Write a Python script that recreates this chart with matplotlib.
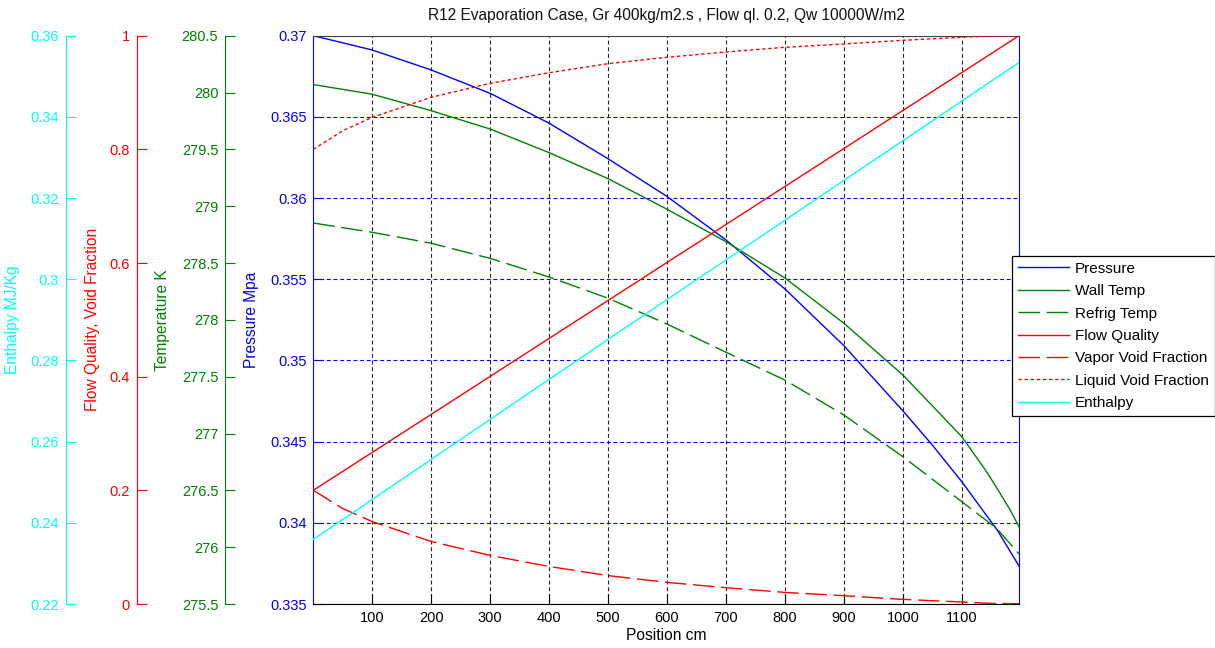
import numpy as np
import matplotlib
matplotlib.use("Agg")
import matplotlib.pyplot as plt
from matplotlib.ticker import FixedLocator, FuncFormatter

plt.rcParams['font.family'] = ['Liberation Sans', 'DejaVu Sans']

# ---------------- data ----------------
title = "R12 Evaporation Case, Gr 400kg/m2.s , Flow ql. 0.2, Qw 10000W/m2"
x_label = "Position cm"

pos_p = [0, 100, 200, 300, 400, 500, 600, 700, 800, 900, 1000, 1050, 1100, 1160, 1197]
pressure = [0.37, 0.36912, 0.36789, 0.36645, 0.36461, 0.36242, 0.3601, 0.35742,
            0.3544, 0.35091, 0.3469, 0.34479, 0.34253, 0.33956, 0.33734]

pos_wall = [0, 100, 200, 300, 400, 500, 600, 700, 800, 900, 1000, 1100, 1142, 1165, 1182, 1197]
wall_temp = [280.07, 279.985, 279.84, 279.679, 279.471, 279.242, 278.973, 278.688,
             278.368, 277.97, 277.515, 276.972, 276.664, 276.474, 276.327, 276.18]

pos_ref = [0, 100, 200, 300, 400, 500, 600, 700, 800, 900, 1000, 1100, 1159, 1197]
refrig_temp = [278.852, 278.77, 278.674, 278.541, 278.377, 278.19, 277.963, 277.715,
               277.47, 277.163, 276.796, 276.40, 276.166, 275.94]

pos_q = [0, 300, 600, 900, 1197]
flow_quality = [0.2, 0.4005, 0.601, 0.8015, 1.0]

pos_v = [0, 50, 100, 200, 300, 400, 500, 600, 700, 800, 900, 1000, 1100, 1146, 1197]
vapor_void = [0.2, 0.168, 0.145, 0.110, 0.0855, 0.066, 0.050, 0.038, 0.0287,
              0.0204, 0.0146, 0.0081, 0.0035, 0.0012, 0.0005]
liquid_void = [0.8, 0.8328, 0.8564, 0.8916, 0.9162, 0.9349, 0.9508, 0.962, 0.9713,
               0.9796, 0.9854, 0.9919, 0.9972, 0.9995, 1.0]

pos_h = [0, 500, 1197]
enthalpy = [0.2359, 0.2852, 0.3534]

x_ticks = [100, 200, 300, 400, 500, 600, 700, 800, 900, 1000, 1100]
p_ticks = [0.335, 0.34, 0.345, 0.35, 0.355, 0.36, 0.365, 0.37]
t_ticks = [275.5, 276, 276.5, 277, 277.5, 278, 278.5, 279, 279.5, 280, 280.5]
q_ticks = [0, 0.2, 0.4, 0.6, 0.8, 1]
h_ticks = [0.22, 0.24, 0.26, 0.28, 0.3, 0.32, 0.34, 0.36]

# ---------------- styling ----------------
BLUE = '#0000FF'
GREEN = '#008000'
RED = '#FF0000'
CYAN = '#00FFFF'
FS = 10.5      # tick labels
LFS = 11.2     # axis labels / title
fmt = FuncFormatter(lambda v, p: f"{v:g}")

fig = plt.figure(figsize=(12.15, 6.48), dpi=100)
ax = fig.add_axes([313.3 / 1215, 1 - 604 / 648, (1019 - 313.3) / 1215, (604 - 35.7) / 648])

ax_t = ax.twinx()
ax_q = ax.twinx()
ax_h = ax.twinx()

# main axis (pressure)
lp, = ax.plot(pos_p, pressure, color=BLUE, lw=1.0, label='Pressure')
ax.set_xlim(0, 1197)
ax.set_ylim(0.335, 0.37)
ax.xaxis.set_major_locator(FixedLocator(x_ticks))
ax.yaxis.set_major_locator(FixedLocator(p_ticks))
ax.yaxis.set_major_formatter(fmt)
ax.tick_params(axis='x', direction='in', length=7, colors='black', labelsize=FS, pad=5,
               top=False)
ax.tick_params(axis='y', direction='in', length=7, colors=BLUE, labelsize=FS, pad=4.8,
               right=False)
ax.xaxis.grid(True, color='#222222', linestyle=(0, (3.5, 2.5)), linewidth=0.8)
ax.yaxis.grid(True, color=BLUE, linestyle=(0, (3.5, 2.5)), linewidth=0.8)
ax.spines['left'].set_color(BLUE)
ax.spines['right'].set_color(BLUE)
ax.spines['top'].set_color('#444444')
ax.spines['bottom'].set_color('black')
ax.set_xlabel(x_label, fontsize=LFS, color='black')
ax.xaxis.set_label_coords(0.5, -0.042)
ax.set_ylabel('Pressure Mpa', fontsize=LFS, color=BLUE)
ax.yaxis.set_label_coords((259 - 313.3) / 705.7, 0.5)
ax.set_title(title, fontsize=LFS, color='#111111', pad=11.5)

# temperature axis
lw_, = ax_t.plot(pos_wall, wall_temp, color=GREEN, lw=1.0, label='Wall Temp')
lr, = ax_t.plot(pos_ref, refrig_temp, color=GREEN, lw=1.0, dashes=(15.5, 4.8),
                label='Refrig Temp')
ax_t.set_ylim(275.5, 280.5)
ax_t.yaxis.set_major_locator(FixedLocator(t_ticks))

# quality / void fraction axis
lq, = ax_q.plot(pos_q, flow_quality, color=RED, lw=1.0, label='Flow Quality')
lv, = ax_q.plot(pos_v, vapor_void, color=RED, lw=1.0, dashes=(15.5, 4.8),
                label='Vapor Void Fraction')
ll, = ax_q.plot(pos_v, liquid_void, color=RED, lw=1.0, dashes=(2.4, 2.0),
                label='Liquid Void Fraction')
ax_q.set_ylim(0, 1)
ax_q.yaxis.set_major_locator(FixedLocator(q_ticks))

# enthalpy axis
lh, = ax_h.plot(pos_h, enthalpy, color=CYAN, lw=1.0, label='Enthalpy')
ax_h.set_ylim(0.22, 0.36)
ax_h.yaxis.set_major_locator(FixedLocator(h_ticks))

for a, off, col, lab, lx in [
        (ax_t, (225 - 313.3) / 705.7, GREEN, 'Temperature K', 170),
        (ax_q, (136.7 - 313.3) / 705.7, RED, 'Flow Quality, Void Fraction', 100),
        (ax_h, (65.7 - 313.3) / 705.7, CYAN, 'Enthalpy MJ/Kg', 20)]:
    a.spines['left'].set_position(('axes', off))
    a.spines['left'].set_visible(True)
    a.spines['left'].set_color(col)
    for s in ('right', 'top', 'bottom'):
        a.spines[s].set_visible(False)
    a.yaxis.set_ticks_position('left')
    a.yaxis.set_label_position('left')
    a.yaxis.set_major_formatter(fmt)
    a.tick_params(axis='y', direction='in', length=7, colors=col, labelsize=FS, pad=4.8)
    a.set_ylabel(lab, fontsize=LFS, color=col)
    a.yaxis.set_label_coords((lx - 313.3) / 705.7, 0.5)
    a.patch.set_visible(False)

handles = [lp, lw_, lr, lq, lv, ll, lh]
leg = fig.legend(handles, [h.get_label() for h in handles], loc='upper left',
                 bbox_to_anchor=(1012 / 1215, 1 - 255.7 / 648), bbox_transform=fig.transFigure,
                 borderaxespad=0, frameon=True, fancybox=False, framealpha=1,
                 edgecolor='black', fontsize=11, handlelength=3.3, handletextpad=0.4,
                 labelspacing=0.55, borderpad=0.4)
leg.get_frame().set_linewidth(0.9)

fig.savefig('out.png', dpi=100, facecolor='white')
